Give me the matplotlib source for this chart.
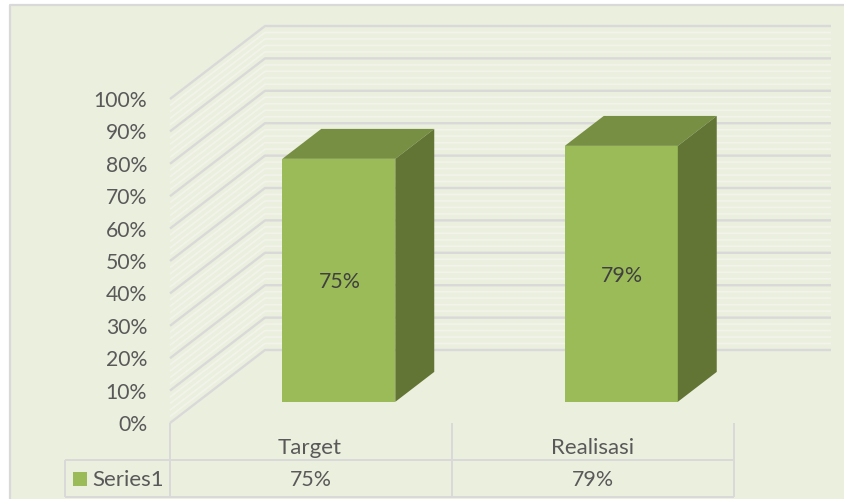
"""Pseudo-3D column chart with a data table underneath."""

import matplotlib

matplotlib.use("Agg")

import matplotlib.pyplot as plt
from matplotlib.patches import Polygon, Rectangle

categories = ["Target", "Realisasi"]
values = [0.75, 0.79]
value_labels = ["75%", "79%"]
series_name = "Series1"
major_ticks = [i / 10 for i in range(11)]
minor_ticks = [i / 50 for i in range(51) if i % 5 != 0]

W, H = 845, 499
BG = "#EBEFDE"
LINE = "#D9D9D9"
MINOR = "#F2F4EC"
TEXT = "#595959"
FRONT = "#9BBB59"
TOP = "#778F42"
SIDE = "#637535"

plt.rcParams["font.family"] = ["Lato", "DejaVu Sans"]
FS_TICK = 15.2
FS_VALUE = 15.4
FS_NAME = 16

# wall depth expressed in data units of the front plane
CAT_PX = 282.5
VAL_PX = 324.0
DEPTH_X = 95 / CAT_PX
DEPTH_Y = 73 / VAL_PX
WALL_END = (831 - 170) / CAT_PX
BAR_W = 113 / CAT_PX
BAR_NEAR = 0.29
BAR_FAR = 0.70

fig = plt.figure(figsize=(W / 100, H / 100), dpi=100, facecolor="white")

# page layer works in image pixels: frame and data table
page = fig.add_axes([0, 0, 1, 1])
page.set_xlim(0, W)
page.set_ylim(H, 0)
page.axis("off")
page.add_patch(Rectangle((10, 5), W - 10, H - 5, facecolor=BG, edgecolor="none"))
page.plot([10, 10, W], [H, 5, 5], color=LINE, lw=1.6, solid_capstyle="butt")

for x0, y0, x1, y1 in [
    (170, 423, 170, 497),
    (452, 423, 452, 497),
    (734, 423, 734, 497),
    (65, 460, 65, 497),
    (65, 460, 734, 460),
    (65, 497, 734, 497),
]:
    page.plot([x0, x1], [y0, y1], color=LINE, lw=1.4, solid_capstyle="butt")

page.add_patch(Rectangle((73, 472), 14, 14, facecolor=FRONT, edgecolor="none"))
page.text(92, 480, series_name, color=TEXT, fontsize=FS_NAME, ha="left", va="center")

# chart layer: x in categories, y in fraction of 100%
ax = fig.add_axes([170 / W, 1 - 423 / H, 565 / W, VAL_PX / H])
ax.patch.set_alpha(0)
ax.set_xlim(0, 2)
ax.set_ylim(0, 1)
for spine in ax.spines.values():
    spine.set_visible(False)
ax.set_xticks([])
ax.set_yticks(major_ticks)
ax.set_yticklabels([f"{round(t * 100)}%" for t in major_ticks], color=TEXT, fontsize=FS_TICK)
ax.tick_params(axis="y", length=0, pad=16.5)


def wall_line(level, color, width):
    xs = [0, DEPTH_X, WALL_END]
    ys = [level, level + DEPTH_Y, level + DEPTH_Y]
    ax.plot(xs, ys, color=color, lw=width, clip_on=False, solid_capstyle="butt", zorder=1)


for level in minor_ticks:
    wall_line(level, MINOR, 1.2)
for level in major_ticks:
    wall_line(level, LINE, 1.7)

for i, (name, value, label) in enumerate(zip(categories, values, value_labels)):
    left = i + 0.5 + BAR_NEAR * DEPTH_X - BAR_W / 2
    right = left + BAR_W
    base = BAR_NEAR * DEPTH_Y
    top = base + value
    dx = (BAR_FAR - BAR_NEAR) * DEPTH_X
    dy = (BAR_FAR - BAR_NEAR) * DEPTH_Y
    ax.add_patch(Polygon([(left, base), (right, base), (right, top), (left, top)],
                         facecolor=FRONT, edgecolor="none", clip_on=False, zorder=3))
    ax.add_patch(Polygon([(left, top), (right, top), (right + dx, top + dy), (left + dx, top + dy)],
                         facecolor=TOP, edgecolor="none", clip_on=False, zorder=3))
    ax.add_patch(Polygon([(right, base), (right + dx, base + dy), (right + dx, top + dy), (right, top)],
                         facecolor=SIDE, edgecolor="none", clip_on=False, zorder=3))
    ax.text((left + right) / 2 + 1 / CAT_PX, base + value / 2 - 2 / VAL_PX, label, color="#404040",
            fontsize=FS_VALUE, ha="center", va="center", zorder=4)
    # category name and table value sit below the plot
    ax.text(i + 0.5 - 0.005, -25 / VAL_PX, name, color=TEXT, fontsize=FS_NAME,
            ha="center", va="center", clip_on=False)
    ax.text(i + 0.5 - 0.002, -57 / VAL_PX, label, color=TEXT, fontsize=FS_VALUE,
            ha="center", va="center", clip_on=False)

fig.savefig("out.png", dpi=100, facecolor="white")
plt.close(fig)
